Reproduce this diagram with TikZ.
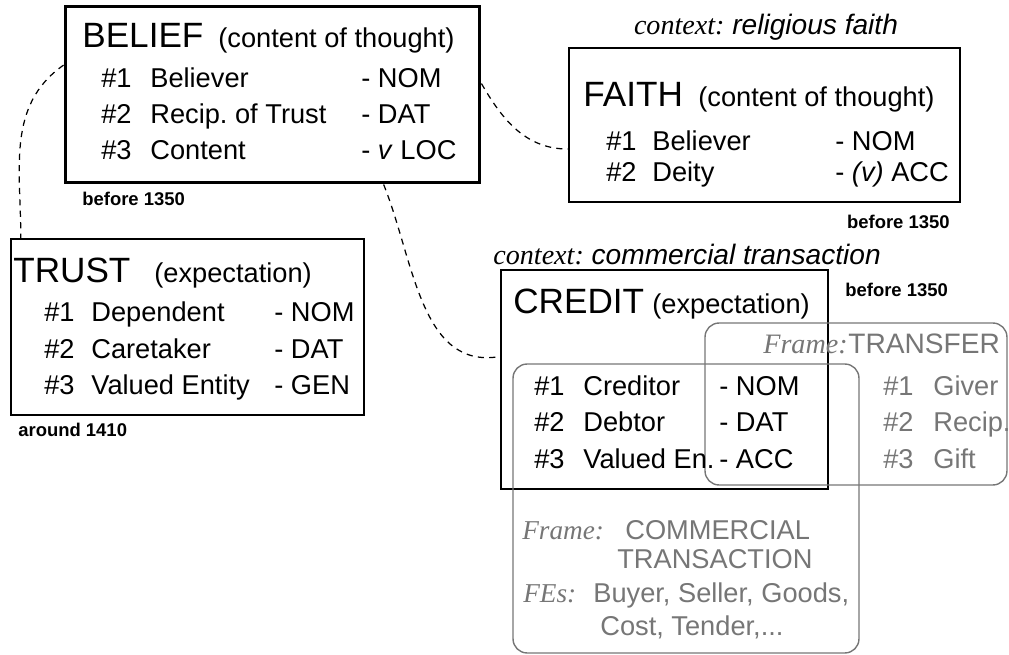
\documentclass[tikz,border=0pt]{standalone}
\usepackage{fontspec}
\setmainfont{Liberation Sans}
\newfontfamily\timesfont{Liberation Serif}
\definecolor{framegray}{RGB}{118,118,118}
\frenchspacing

\begin{document}
\begin{tikzpicture}[x=0.02cm, y=-0.02cm,
    lexbox/.style={draw, line width=0.7pt, inner sep=0pt},
    fnbox/.style={draw=framegray, line width=0.8pt, rounded corners=8pt, inner sep=0pt},
    head/.style={anchor=base west, inner sep=0pt, font=\fontsize{20}{24}\selectfont},
    txt/.style={anchor=base west, inner sep=0pt, font=\fontsize{15.5}{18}\selectfont},
    gtxt/.style={txt, text=framegray},
    ital/.style={anchor=base west, inner sep=0pt, font=\fontsize{16}{19}\selectfont},
    date/.style={anchor=base west, inner sep=0pt, font=\fontsize{10.5}{12}\selectfont\bfseries},
    link/.style={dash pattern=on 3.5pt off 3pt, line width=0.7pt}]

  \useasboundingbox (0,0) rectangle (1009,655);

  % lexical units
  \node[lexbox, line width=1.7pt, minimum width=8.3cm, minimum height=3.54cm] (belief) at (272.5,94.5) {};
  \node[lexbox, minimum width=7.82cm, minimum height=3.08cm] (faith) at (764.5,125) {};
  \node[lexbox, minimum width=7.06cm, minimum height=3.52cm] (trust) at (187.5,327) {};
  \node[lexbox, minimum width=6.54cm, minimum height=4.38cm] (credit) at (664.5,379.5) {};

  % frames
  \node[fnbox, minimum width=6.04cm, minimum height=3.24cm] (transfer) at (856,404) {};
  \node[fnbox, minimum width=6.92cm, minimum height=5.78cm] (commerce) at (686,508.5) {};

  % BELIEF
  \node[head] (belief head) at (82,48) {BELIEF};
  \node[txt] (belief sense) at (218,48) {(content of thought)};
  \foreach \k/\role/\case [count=\i] in {1/Believer/NOM, 2/Recip. of Trust/DAT, 3/Content/{\textit{v} LOC}} {
    \node[txt] (belief num\i) at (101,52+36*\i) {\#\k};
    \node[txt] (belief role\i) at (150,52+36*\i) {\role};
    \node[txt] (belief case\i) at (361,52+36*\i) {- \case};
  }
  \node[date] (belief date) at (82,206) {before 1350};

  % FAITH
  \node[ital, anchor=base] (faith context) at (766,35) {{\timesfont\itshape context:} \textit{religious faith}};
  \node[head] (faith head) at (583,107) {FAITH};
  \node[txt] (faith sense) at (698,107) {(content of thought)};
  \foreach \k/\role/\case [count=\i] in {1/Believer/NOM, 2/Deity/{\textit{(v)} ACC}} {
    \node[txt] (faith num\i) at (606,120+31*\i) {\#\k};
    \node[txt] (faith role\i) at (652,120+31*\i) {\role};
    \node[txt] (faith case\i) at (835,120+31*\i) {- \case};
  }
  \node[date, anchor=base east] (faith date) at (950,229) {before 1350};

  % TRUST
  \node[head] (trust head) at (13,283) {TRUST};
  \node[txt] (trust sense) at (154,283) {(expectation)};
  \foreach \k/\role/\case [count=\i] in {1/Dependent/NOM, 2/Caretaker/DAT, 3/Valued Entity/GEN} {
    \node[txt] (trust num\i) at (44,285.5+36.5*\i) {\#\k};
    \node[txt] (trust role\i) at (91,285.5+36.5*\i) {\role};
    \node[txt] (trust case\i) at (274,285.5+36.5*\i) {- \case};
  }
  \node[date] (trust date) at (18,437) {around 1410};

  % CREDIT
  \node[ital] (credit context) at (493,265) {{\timesfont\itshape context:} \textit{commercial transaction}};
  \node[head] (credit head) at (513,314) {CREDIT};
  \node[txt] (credit sense) at (652,314) {(expectation)};
  \node[date] (credit date) at (845,297) {before 1350};
  \foreach \k/\role/\case [count=\i] in {1/Creditor/NOM, 2/Debtor/DAT, 3/Valued En./ACC} {
    \node[txt] (credit num\i) at (534,359+36.5*\i) {\#\k};
    \node[txt] (credit role\i) at (583,359+36.5*\i) {\role};
    \node[txt] (credit case\i) at (719,359+36.5*\i) {- \case};
  }

  % TRANSFER
  \node[gtxt, font=\fontsize{16}{19}\timesfont\itshape] (transfer label) at (763,354) {Frame:};
  \node[gtxt, font=\fontsize{16}{19}\selectfont] (transfer name) at (848,354) {TRANSFER};
  \foreach \k/\role [count=\i] in {1/Giver, 2/Recip., 3/Gift} {
    \node[gtxt] (transfer num\i) at (883,359+36.5*\i) {\#\k};
    \node[gtxt] (transfer role\i) at (933,359+36.5*\i) {\role};
  }

  % COMMERCIAL TRANSACTION
  \node[gtxt, font=\fontsize{15.5}{18}\timesfont\itshape] (commerce label) at (522,540) {Frame:};
  \node[gtxt] (commerce name1) at (625,540) {COMMERCIAL};
  \node[gtxt] (commerce name2) at (617,569) {TRANSACTION};
  \node[gtxt, font=\fontsize{15.5}{18}\timesfont\itshape] (commerce fes) at (523,603) {FEs:};
  \node[gtxt] (commerce list1) at (593,603) {Buyer, Seller, Goods,};
  \node[gtxt] (commerce list2) at (600,636) {Cost, Tender,...};

  % links
  \draw[link] (belief.172) to[out=215, in=90] (trust.152);
  \draw[link] (belief.3) to[out=-60, in=180] (faith.187);
  \draw[link] (belief.-39) to[out=-68, in=190] (credit.172);

\end{tikzpicture}
\end{document}
